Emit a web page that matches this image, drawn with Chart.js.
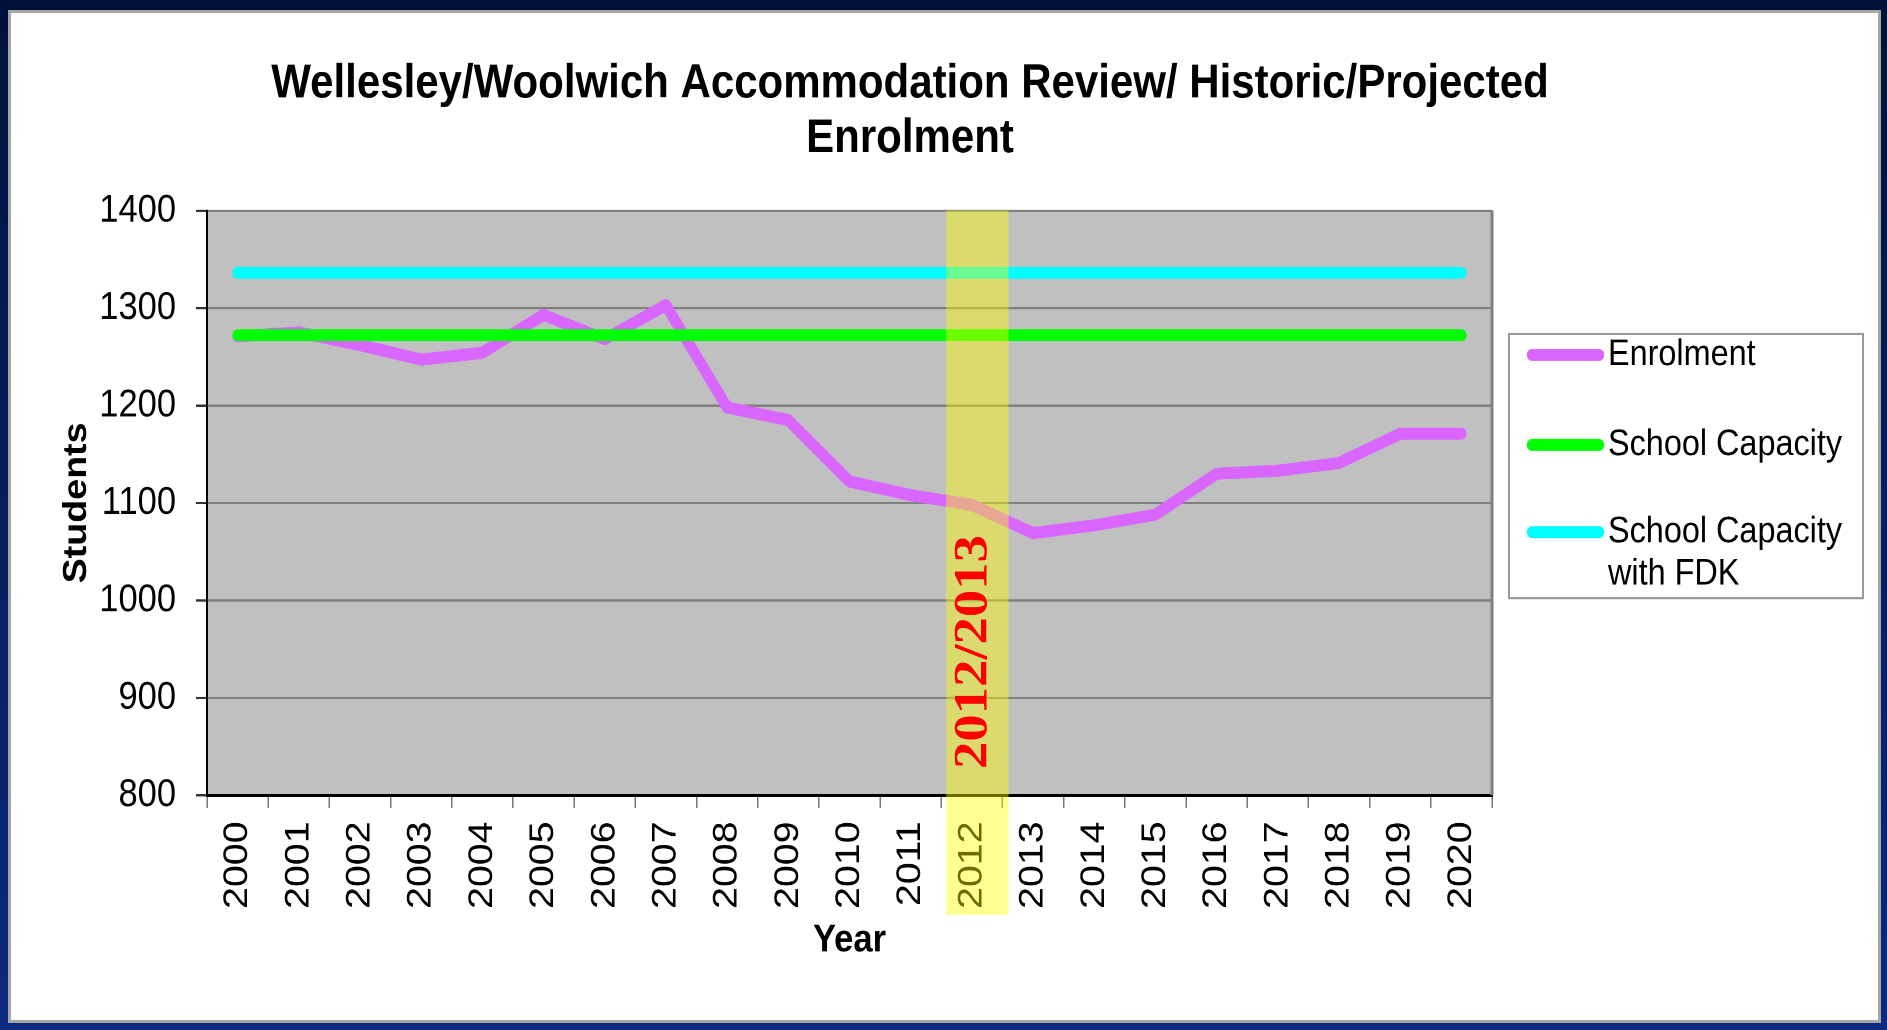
<!DOCTYPE html>
<html>
<head>
<meta charset="utf-8">
<title>Wellesley/Woolwich Enrolment</title>
<script src="https://cdn.jsdelivr.net/npm/chart.js"></script>
<style>
  body { margin: 0; width: 1887px; height: 1030px; overflow: hidden;
         background: linear-gradient(#00123a, #0b2a80); }
  #panel { position: absolute; left: 8px; top: 10px; width: 1867px; height: 1007px;
           background: #fff; border: 3px solid #a6a6a6; }
  /* the source picture is stretched vertically, so the chart is too */
  #wrap { position: absolute; left: 0; top: 0; width: 1887px; height: 904px;
          transform: scaleY(1.1394); transform-origin: 0 0; }
</style>
</head>
<body>
<div id="panel"></div>
<div id="wrap"><canvas id="enrolmentChart"></canvas></div>
<script>
const years = ['2000', '2001', '2002', '2003', '2004', '2005', '2006', '2007', '2008', '2009', '2010',
               '2011', '2012', '2013', '2014', '2015', '2016', '2017', '2018', '2019', '2020'];
const enrolment = [1271, 1275, 1262, 1247, 1254, 1293, 1268, 1303, 1198, 1185, 1122,
                   1108, 1098, 1069, 1077, 1088, 1130, 1133, 1141, 1171, 1171];
const capacity = [1272, 1272, 1272, 1272, 1272, 1272, 1272, 1272, 1272, 1272, 1272,
                  1272, 1272, 1272, 1272, 1272, 1272, 1272, 1272, 1272, 1272];
const capacityFdk = [1336, 1336, 1336, 1336, 1336, 1336, 1336, 1336, 1336, 1336, 1336,
                     1336, 1336, 1336, 1336, 1336, 1336, 1336, 1336, 1336, 1336];
const yTicks = [800, 900, 1000, 1100, 1200, 1300, 1400];
const highlightYear = '2012';
const highlightText = '2012/2013';

Chart.defaults.font.family = '"Liberation Sans", Arial, sans-serif';
Chart.defaults.color = '#000';

// grey plot area, right edge, yellow 2012 band and its red label
const bandPlugin = {
  id: 'band',
  beforeDraw(chart) {
    const { ctx, chartArea: a } = chart;
    ctx.save();
    ctx.fillStyle = '#c0c0c0';
    ctx.fillRect(a.left, a.top, a.right - a.left, a.bottom - a.top);
    ctx.restore();
  },
  afterDraw(chart) {
    const { ctx, chartArea: a, scales: { x, y } } = chart;
    ctx.save();
    ctx.strokeStyle = '#808080';
    ctx.lineWidth = 3;
    ctx.beginPath();
    ctx.moveTo(a.right, a.top);
    ctx.lineTo(a.right, a.bottom);
    ctx.stroke();

    const i = years.indexOf(highlightYear);
    const cx = x.getPixelForValue(i);
    const bw = x.getPixelForValue(1) - x.getPixelForValue(0);
    ctx.fillStyle = 'rgba(255,255,0,0.42)';
    ctx.fillRect(cx - 0.42 * bw, a.top, 1.02 * bw, a.bottom - a.top + 105);

    ctx.translate(cx + 2, y.getPixelForValue(947));
    ctx.rotate(-Math.PI / 2);
    ctx.font = 'bold 48px "Liberation Serif"';
    ctx.fillStyle = '#ff0000';
    ctx.textAlign = 'center';
    ctx.textBaseline = 'middle';
    ctx.fillText(highlightText, 0, 0);
    ctx.restore();
  }
};

// boxed legend on the right, long labels wrap
const legendPlugin = {
  id: 'sideLegend',
  afterDraw(chart) {
    const { ctx } = chart;
    const bx = chart.chartArea.right + 17, by = 293, bw = 354, bh = 232;
    const rows = [18.5, 97.5, 174];
    ctx.save();
    ctx.fillStyle = '#fff';
    ctx.fillRect(bx, by, bw, bh);
    ctx.strokeStyle = '#9a9a9a';
    ctx.lineWidth = 2;
    ctx.strokeRect(bx, by, bw, bh);
    ctx.font = '32.4px "Liberation Sans"';
    ctx.textBaseline = 'middle';
    chart.data.datasets.forEach((ds, k) => {
      const yy = by + rows[k];
      ctx.strokeStyle = ds.borderColor;
      ctx.lineWidth = 10.5;
      ctx.lineCap = 'round';
      ctx.beginPath();
      ctx.moveTo(bx + 23, yy);
      ctx.lineTo(bx + 90, yy);
      ctx.stroke();

      const words = ds.label.split(' ');
      const lines = [];
      let cur = '';
      words.forEach(w => {
        const t = cur ? cur + ' ' + w : w;
        if (cur && ctx.measureText(t).width > bw - 107) { lines.push(cur); cur = w; }
        else cur = t;
      });
      lines.push(cur);
      ctx.fillStyle = '#000';
      lines.forEach((l, j) => ctx.fillText(l, bx + 99, yy + j * 37));
    });
    ctx.restore();
  }
};

const ctx = document.getElementById('enrolmentChart').getContext('2d');
const enrolmentChart = new Chart(ctx, {
  type: 'line',
  data: {
    labels: years,
    datasets: [
      { label: 'Enrolment', data: enrolment, borderColor: '#d966ff', order: 3 },
      { label: 'School Capacity', data: capacity, borderColor: '#00ff00', order: 1 },
      { label: 'School Capacity with FDK', data: capacityFdk, borderColor: '#00ffff', order: 2 }
    ]
  },
  options: {
    responsive: true,
    maintainAspectRatio: false,
    animation: false,
    devicePixelRatio: 2,
    layout: { padding: { left: 0, right: 67, top: 0, bottom: 0 } },
    elements: {
      line: { borderWidth: 10.5, borderCapStyle: 'round', borderJoinStyle: 'round', tension: 0 },
      point: { radius: 0, hoverRadius: 0 }
    },
    plugins: {
      legend: { display: false },
      tooltip: { enabled: false },
      title: {
        display: true,
        text: ['Wellesley/Woolwich Accommodation Review/ Historic/Projected', 'Enrolment'],
        font: { size: 42, weight: 'bold', lineHeight: 1.14 },
        color: '#000',
        padding: { top: 50, bottom: 39 }
      }
    },
    scales: {
      x: {
        offset: true,
        afterFit: (s) => { s.height = 206; },
        grid: { offset: true, drawOnChartArea: false, drawTicks: true, tickLength: 11,
                color: '#777', lineWidth: 1.5 },
        border: { color: '#000', width: 2.5 },
        ticks: { autoSkip: false, minRotation: 90, maxRotation: 90, padding: 12,
                 font: { size: 34.5 }, color: '#000' },
        title: { display: true, text: 'Year', font: { size: 34.6, weight: 'bold' },
                 color: '#000', padding: { top: 0, bottom: 58 } }
      },
      y: {
        min: 800,
        max: 1400,
        afterFit: (s) => { s.width = 207; },
        afterBuildTicks: (s) => { s.ticks = yTicks.map(v => ({ value: v })); },
        grid: { color: '#808080', lineWidth: 2, tickLength: 11, tickColor: '#333' },
        border: { color: '#000', width: 2 },
        ticks: { padding: 20, font: { size: 34.5 }, color: '#000', callback: (v) => String(v) },
        title: { display: true, text: 'Students', font: { size: 33, weight: 'bold' },
                 color: '#000', padding: { top: 57, bottom: 0 } }
      },
      // empty right-hand axis that keeps room for the legend box
      side: {
        type: 'linear',
        position: 'right',
        afterFit: (s) => { s.width = 328; },
        grid: { display: false },
        border: { display: false },
        ticks: { display: false }
      }
    }
  },
  plugins: [bandPlugin, legendPlugin]
});
</script>
</body>
</html>
